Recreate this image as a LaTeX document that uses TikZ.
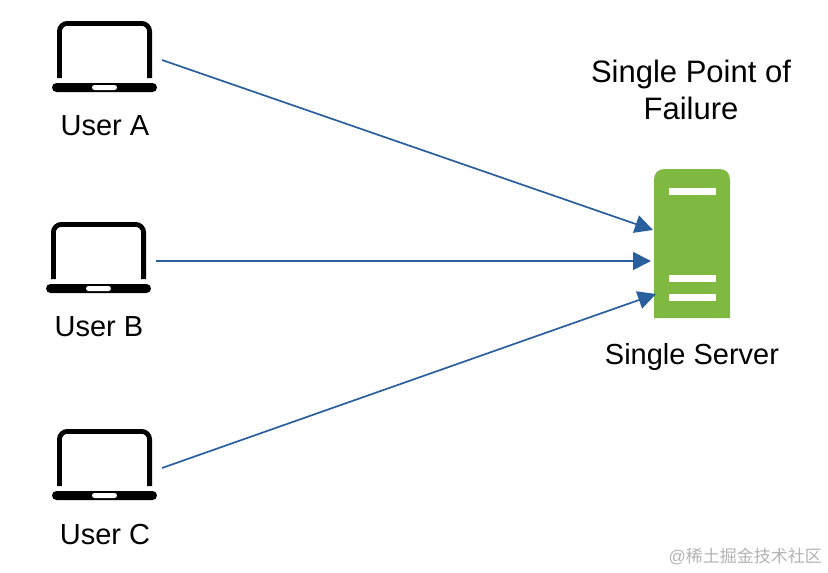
\documentclass[tikz,border=0pt]{standalone}
\usepackage{fontspec}
\setmainfont{Liberation Sans}
\newfontfamily\cjk{Noto Sans CJK SC}
\usetikzlibrary{arrows.meta}
\definecolor{linkblue}{HTML}{2A5F9E}
\definecolor{servergreen}{HTML}{7FB942}
\definecolor{markgrey}{HTML}{B4B4B4}
\tikzset{
  lbl/.style={inner sep=0pt,font=\fontsize{29}{33}\selectfont,text=black},
  ttl/.style={inner sep=0pt,align=center,font=\fontsize{31}{36.5}\selectfont,text=black},
  link/.style={draw=linkblue,line width=1.7pt,-{Triangle[length=18pt,width=18pt,fill=linkblue]}},
  bar/.style={fill=white,draw=none},
  pics/laptop/.style={code={
    \draw[black,line width=4.8pt,rounded corners=8pt] (59.4,78) -- (59.4,23.4) -- (149.6,23.4) -- (149.6,78);
    \fill[black,rounded corners=4.5pt] (52,83) rectangle (157,92);
    \fill[white,rounded corners=2.5pt] (92,85) rectangle (117,90);
  }}
}
\begin{document}
\begin{tikzpicture}[x=1pt,y=-1pt]
\useasboundingbox (0,0) rectangle (828,573);
\fill[white] (0,0) rectangle (828,573);
\pic at (0,0) {laptop};
\pic at (-6,201) {laptop};
\pic at (0,408) {laptop};
\node[lbl] (ua) at (105,126) {User A};
\node[lbl] (ub) at (99,327) {User B};
\node[lbl] (uc) at (105,535) {User C};
\fill[servergreen] (654,318) -- (654,180) .. controls (654,173) and (658,169) .. (665,169) -- (719,169) .. controls (726,169) and (730,173) .. (730,180) -- (730,318) -- cycle;
\fill[bar] (669,188) rectangle (716,195);
\fill[bar] (669,275) rectangle (716,282);
\fill[bar] (669,294) rectangle (716,301);
\node[inner sep=0pt,minimum width=76pt,minimum height=149pt] (server) at (692,243.5) {};
\node[ttl] (title) at (691,90) {Single Point of\\Failure};
\node[lbl] (sl) at (692,357) {Single Server};
\coordinate (a1) at (162,60);
\coordinate (b1) at (156,261);
\coordinate (c1) at (162,468);
\coordinate (a2) at (653,230);
\coordinate (b2) at (651,261);
\coordinate (c2) at (656,294);
\draw[link] (a1) -- (a2);
\draw[link] (b1) -- (b2);
\draw[link] (c1) -- (c2);
\node[inner sep=0pt,anchor=east,text=markgrey,font=\fontsize{17}{20}\selectfont] (mark) at (822,556) {@{\cjk 稀土掘金技术社区}};
\end{tikzpicture}
\end{document}
